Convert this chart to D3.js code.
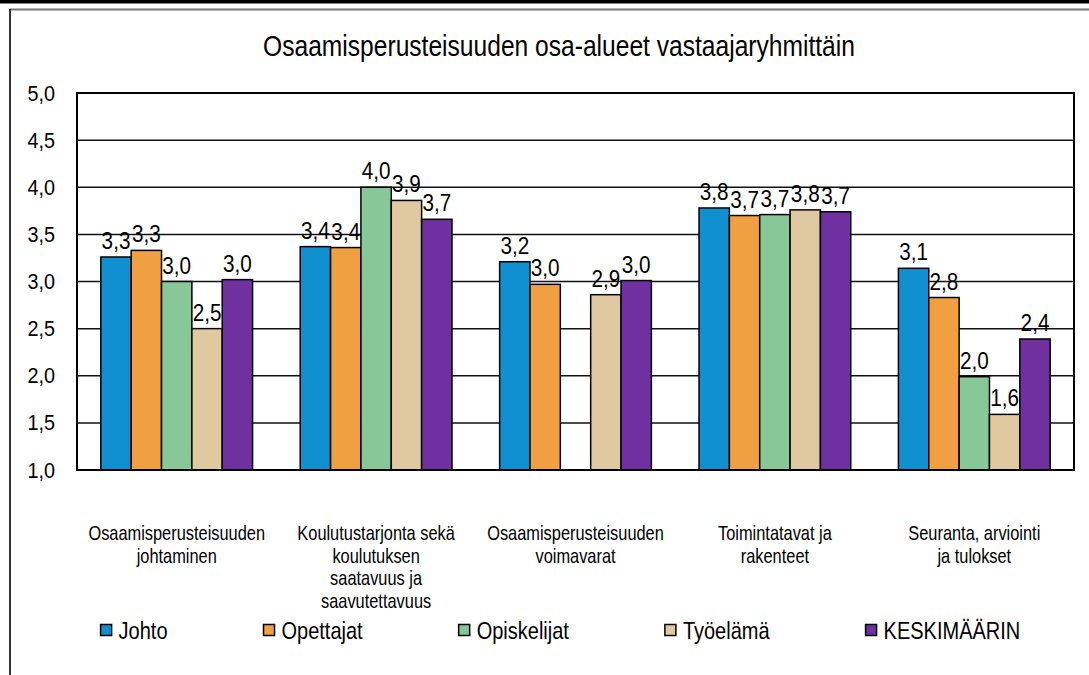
<!DOCTYPE html>
<html lang="fi">
<head>
    <meta charset="UTF-8">
    <title>Osaamisperusteisuuden osa-alueet vastaajaryhmittäin</title>
    <script src="https://d3js.org/d3.v7.min.js"></script>

    <style>
        body {
            margin: 0;
            background: #fff;
        }

        svg {
            display: block;
        }

        text {
            font-family: "Liberation Sans", Arial, sans-serif;
            fill: #000;
        }
    </style>
</head>
<body>

    <div id="container"></div>

    <script>

        // data
        const categories = [
            ['Osaamisperusteisuuden', 'johtaminen'],
            ['Koulutustarjonta sekä', 'koulutuksen', 'saatavuus ja', 'saavutettavuus'],
            ['Osaamisperusteisuuden', 'voimavarat'],
            ['Toimintatavat ja', 'rakenteet'],
            ['Seuranta, arviointi', 'ja tulokset']
        ];
        const seriesNames = ['Johto', 'Opettajat', 'Opiskelijat', 'Työelämä', 'KESKIMÄÄRIN'];
        const johto = [3.26, 3.37, 3.21, 3.78, 3.14];
        const opettajat = [3.33, 3.36, 2.97, 3.70, 2.83];
        const opiskelijat = [3.00, 4.00, null, 3.71, 1.99];
        const tyoelama = [2.50, 3.86, 2.86, 3.76, 1.59];
        const keskimaarin = [3.02, 3.66, 3.01, 3.74, 2.39];
        const yTicks = [1.0, 1.5, 2.0, 2.5, 3.0, 3.5, 4.0, 4.5, 5.0];

        const seriesValues = [johto, opettajat, opiskelijat, tyoelama, keskimaarin];
        const colors = ['#1090d0', '#f0a040', '#88c898', '#e0c8a0', '#7030a0'];

        const width = 1089;
        const height = 675;
        const narrow = 0.82; // squeeze to look like Arial Narrow

        // plot area
        const plotLeft = 77, plotRight = 1074, plotTop = 93, plotBottom = 470;

        const svg = d3.select('#container').append('svg')
            .attr('width', width)
            .attr('height', height);

        // outer frame
        svg.append('rect')
            .attr('x', 0).attr('y', 0)
            .attr('width', width).attr('height', 3.5)
            .attr('fill', '#000');
        svg.append('line')
            .attr('x1', 10).attr('x2', width)
            .attr('y1', 9.5).attr('y2', 9.5)
            .attr('stroke', '#777').attr('stroke-width', 2);
        svg.append('line')
            .attr('x1', 10).attr('x2', 10)
            .attr('y1', 9).attr('y2', height)
            .attr('stroke', '#333').attr('stroke-width', 2);

        // narrow text helper
        function narrowText(g, x, y, size, anchor, str, sx) {
            return g.append('text')
                .attr('transform', 'translate(' + x + ',' + y + ') scale(' + (sx || narrow) + ',1)')
                .attr('text-anchor', anchor)
                .style('font-size', size + 'px')
                .text(str);
        }

        // title
        narrowText(svg, 559, 56, 30, 'middle', 'Osaamisperusteisuuden osa-alueet vastaajaryhmittäin');

        // scales
        const x0 = d3.scaleBand()
            .domain(d3.range(categories.length))
            .range([plotLeft, plotRight]);

        const bw = x0.bandwidth();
        const barW = bw / 6.57;
        const x1 = d3.scaleBand()
            .domain(seriesNames)
            .range([(bw - barW * 5) / 2, (bw + barW * 5) / 2]);

        const y = d3.scaleLinear()
            .domain([1, 5])
            .range([plotBottom, plotTop]);

        const fmt = v => v.toFixed(1).replace('.', ',');

        // gridlines
        svg.append('g')
            .selectAll('line')
            .data(yTicks.filter(t => t > 1 && t < 5))
            .enter()
            .append('line')
            .attr('x1', plotLeft).attr('x2', plotRight)
            .attr('y1', d => y(d)).attr('y2', d => y(d))
            .attr('stroke', '#111')
            .attr('stroke-width', 1.5);

        // y tick labels
        const tickG = svg.append('g');
        yTicks.forEach(t => {
            narrowText(tickG, 55, y(t) + 7.5, 22, 'end', fmt(t), 0.9);
        });

        // bars
        const rows = [];
        seriesValues.forEach((vals, s) => {
            vals.forEach((v, c) => {
                if (v !== null) rows.push({ c: c, s: seriesNames[s], color: colors[s], v: v });
            });
        });

        svg.append('g')
            .selectAll('rect')
            .data(rows)
            .enter()
            .append('rect')
            .attr('x', d => x0(d.c) + x1(d.s))
            .attr('y', d => y(d.v))
            .attr('width', x1.bandwidth())
            .attr('height', d => y(1) - y(d.v))
            .attr('fill', d => d.color)
            .attr('stroke', '#000')
            .attr('stroke-width', 1.5);

        // plot border
        svg.append('rect')
            .attr('x', plotLeft).attr('y', plotTop)
            .attr('width', plotRight - plotLeft).attr('height', plotBottom - plotTop)
            .attr('fill', 'none')
            .attr('stroke', '#000')
            .attr('stroke-width', 2);

        // value labels
        const valG = svg.append('g');
        rows.forEach(d => {
            narrowText(valG, x0(d.c) + x1(d.s) + x1.bandwidth() / 2, y(d.v) - 8,
                23, 'middle', fmt(d.v), 0.9);
        });

        // category labels
        const catG = svg.append('g');
        categories.forEach((lines, c) => {
            lines.forEach((line, i) => {
                narrowText(catG, x0(c) + bw / 2, 540 + i * 22.5, 20, 'middle', line);
            });
        });

        // legend
        const legend = svg.append('g');
        let lx = 100.6;
        seriesNames.forEach((name, s) => {
            legend.append('rect')
                .attr('x', lx).attr('y', 624.5)
                .attr('width', 11).attr('height', 11)
                .attr('fill', colors[s])
                .attr('stroke', '#000')
                .attr('stroke-width', 1.5);
            const t = narrowText(legend, lx + 18, 639, 24.4, 'start', name);
            lx += 18 + t.node().getComputedTextLength() * narrow + 96;
        });

    </script>

</body>
</html>
